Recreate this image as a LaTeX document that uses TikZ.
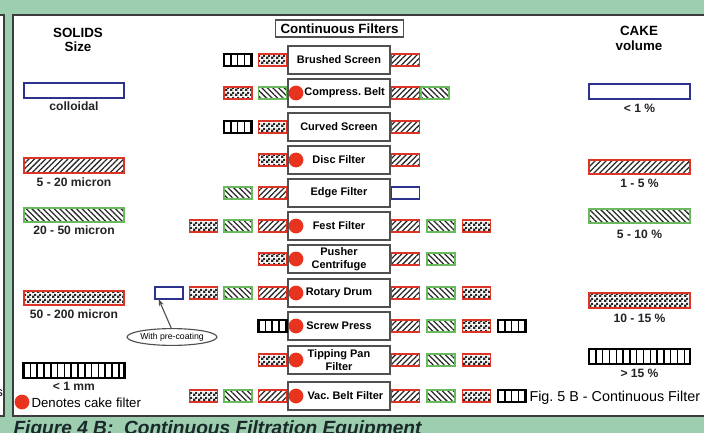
\documentclass[tikz,border=0pt]{standalone}
\usepackage{fontspec}
\setmainfont{Liberation Sans}
\usepackage{tikz}
\usetikzlibrary{arrows.meta,patterns.meta,shapes.geometric}
\tikzset{every picture/.style={line width=0.75pt}}

\definecolor{bggreen}{RGB}{158,206,176}
\definecolor{panelline}{RGB}{60,60,60}
\definecolor{boxgray}{RGB}{80,80,80}
\definecolor{sred}{RGB}{221,52,40}
\definecolor{sgreen}{RGB}{104,186,92}
\definecolor{sblue}{RGB}{45,50,140}
\definecolor{dotred}{RGB}{232,52,30}
\definecolor{hatchgray}{RGB}{40,40,40}
\definecolor{legink}{RGB}{35,35,35}
\definecolor{capink}{RGB}{25,40,40}

\tikzdeclarepattern{
  name=fineboard,
  bounding box={(0pt,0pt) and (3.2pt,3.2pt)},
  tile size={(3.2pt,3.2pt)},
  code={
    \fill (0pt,0pt) rectangle (1.9pt,1.9pt);
    \fill (1.6pt,1.6pt) rectangle (3.2pt,3.2pt);
    \fill (0pt,2.9pt) rectangle (0.3pt,3.2pt);
    \fill (2.9pt,0pt) rectangle (3.2pt,0.3pt);
  }
}

\tikzset{
  panel/.style={draw=panelline, line width=0.9pt, fill=white},
  swatch/.style={draw, line width=1.4pt, minimum width=0.7cm, minimum height=0.3cm,
    inner sep=0pt, outer sep=0pt},
  swred/.style={swatch, draw=sred, pattern={Lines[angle=45,distance=2.8pt,line width=0.9pt]},
    pattern color=hatchgray},
  swgreen/.style={swatch, draw=sgreen, pattern={Lines[angle=-45,distance=2.8pt,line width=0.9pt]},
    pattern color=hatchgray},
  swdots/.style={swatch, draw=sred, pattern=fineboard, pattern color=hatchgray},
  swblue/.style={swatch, draw=sblue, fill=white},
  swbars/.style={swatch, draw=black, line width=1.7pt, fill=white, path picture={
      \foreach \bb in {1,...,16}
        \draw[black, line width=1.1pt] ([xshift=\bb*0.17cm]path picture bounding box.south west)
          -- ([xshift=\bb*0.17cm]path picture bounding box.north west);}},
  legbox/.style={minimum width=2.52cm, minimum height=0.36cm},
  filterbox/.style={draw=boxgray, line width=0.9pt, fill=white, minimum width=2.55cm,
    minimum height=0.7cm, inner sep=1pt, align=center,
    font=\bfseries\fontsize{7.8}{9}\selectfont},
  titlebox/.style={draw=boxgray, line width=0.9pt, fill=white, minimum width=3.2cm,
    minimum height=0.42cm, inner sep=1pt, font=\bfseries\fontsize{9.5}{11}\selectfont},
  cakedot/.style={circle, fill=dotred, minimum size=0.37cm, inner sep=0pt},
  headtext/.style={align=center, inner sep=0pt, font=\bfseries\fontsize{9.5}{10.4}\selectfont},
  legtext/.style={inner sep=0pt, text=legink, font=\bfseries\fontsize{8.6}{10}\selectfont},
  precoat/.style={ellipse, draw=boxgray, line width=0.8pt, fill=white, minimum width=2.22cm,
    minimum height=0.42cm, inner sep=0pt, font=\fontsize{6.2}{7}\selectfont},
}

\begin{document}
\begin{tikzpicture}[x=0.025cm, y=-0.025cm]
    % 底色与面板
    \useasboundingbox (0,0) rectangle (704,433);
    \clip (0,0) rectangle (704,433);
    \fill[bggreen] (0,0) rectangle (704,433);
    \draw[panel] (-10,15) rectangle (4,416);
    \draw[panel] (13,15) rectangle (720,416);
    \node[anchor=base east, inner sep=0pt, font=\fontsize{9}{10}\selectfont] (frag) at (3.5,396) {s};
    % 标题
    \node[titlebox] (title) at (339.5,28.5) {Continuous Filters};
    \node[headtext] (solids) at (78,40) {SOLIDS\\Size};
    \node[headtext] (cake) at (639,38.5) {CAKE\\volume};
    % 左列：固体粒径
    \node[swblue, legbox] (size1) at (74,90.5) {};
    \node[legtext] (size1-t) at (74,106) {colloidal};
    \node[swred, legbox] (size2) at (74,165.5) {};
    \node[legtext] (size2-t) at (74,182) {5 - 20 micron};
    \node[swgreen, legbox] (size3) at (74,215) {};
    \node[legtext] (size3-t) at (74,230) {20 - 50 micron};
    \node[swdots, legbox] (size4) at (74,298) {};
    \node[legtext] (size4-t) at (74,314) {50 - 200 micron};
    \node[swbars, legbox] (size5) at (74,370.5) {};
    \node[legtext] (size5-t) at (74,386) {< 1 mm};
    % 右列：滤饼体积
    \node[swblue, legbox] (vol1) at (639.5,91.5) {};
    \node[legtext] (vol1-t) at (639.5,108) {< 1 \%};
    \node[swred, legbox] (vol2) at (639.5,167) {};
    \node[legtext] (vol2-t) at (639.5,183) {1 - 5 \%};
    \node[swgreen, legbox] (vol3) at (639.5,216) {};
    \node[legtext] (vol3-t) at (639.5,234) {5 - 10 \%};
    \node[swdots, legbox] (vol4) at (639.5,300.5) {};
    \node[legtext] (vol4-t) at (639.5,318) {10 - 15 \%};
    \node[swbars, legbox] (vol5) at (639.5,356.5) {};
    \node[legtext] (vol5-t) at (639.5,373) {> 15 \%};
    % 过滤设备
    \foreach \y/\nm/\txt/\ls/\rs/\hasdot in {
        60/brush/{Brushed Screen}/{swdots,swbars}/{swred}/0,
        93/comp/{\hspace*{8pt}Compress.\ Belt}/{swgreen,swdots}/{swred}/1,
        127/curved/{Curved Screen}/{swdots,swbars}/{swred}/0,
        160/disc/{Disc Filter}/{swdots}/{swred}/1,
        193/edge/{Edge Filter}/{swred,swgreen}/{swblue}/0,
        226/fest/{Fest Filter}/{swred,swgreen,swdots}/{swred,swgreen,swdots}/1,
        259/pusher/{Pusher\\Centrifuge}/{swdots}/{swred,swgreen}/1,
        293/rotary/{Rotary Drum}/{swred,swgreen,swdots,swblue}/{swred,swgreen,swdots}/1,
        326/screw/{Screw Press}/{swbars}/{swred,swgreen,swdots,swbars}/1,
        360/tipping/{Tipping Pan\\Filter}/{swdots}/{swred,swgreen,swdots}/1,
        396/vac/{\hspace*{9pt}Vac.\ Belt Filter}/{swred,swgreen,swdots}/{swred,swgreen,swdots,swbars}/1}{
        \node[filterbox] (\nm) at (339,\y) {\txt};
        \foreach \s [count=\k] in \ls
            \node[\s] (\nm-l\k) at ({272.5-34.5*(\k-1)},\y) {};
        \foreach \s [count=\k] in \rs
            \node[\s] (\nm-r\k) at ({405.5+35.5*(\k-1)},\y) {};
        \ifnum\hasdot=1 \node[cakedot] (\nm-dot) at (296,\y) {}; \fi
    }
    \node[swgreen] (comp-r2) at (435,93) {};
    % 预涂层
    \node[precoat] (pre) at (172,337) {With pre-coating};
    \draw[-{Stealth[length=5pt,width=3.5pt]}, line width=0.8pt, boxgray] (pre.95) -- (rotary-l4.-150);
    % 说明文字
    \node[cakedot] (key-dot) at (22,402) {};
    \node[anchor=west, inner sep=0pt, font=\fontsize{9.4}{11}\selectfont] (key) at (31,402.5) {Denotes cake filter};
    \node[anchor=west, inner sep=0pt, font=\fontsize{10.2}{12}\selectfont] (fig5) at (529,398) {Fig.\ 5 B - Continuous Filter};
    \node[anchor=base west, inner sep=0pt, text=capink, font=\bfseries\itshape\fontsize{13.6}{16}\selectfont] (caption) at (13,434) {Figure 4 B:\ \ Continuous Filtration Equipment};
\end{tikzpicture}
\end{document}
